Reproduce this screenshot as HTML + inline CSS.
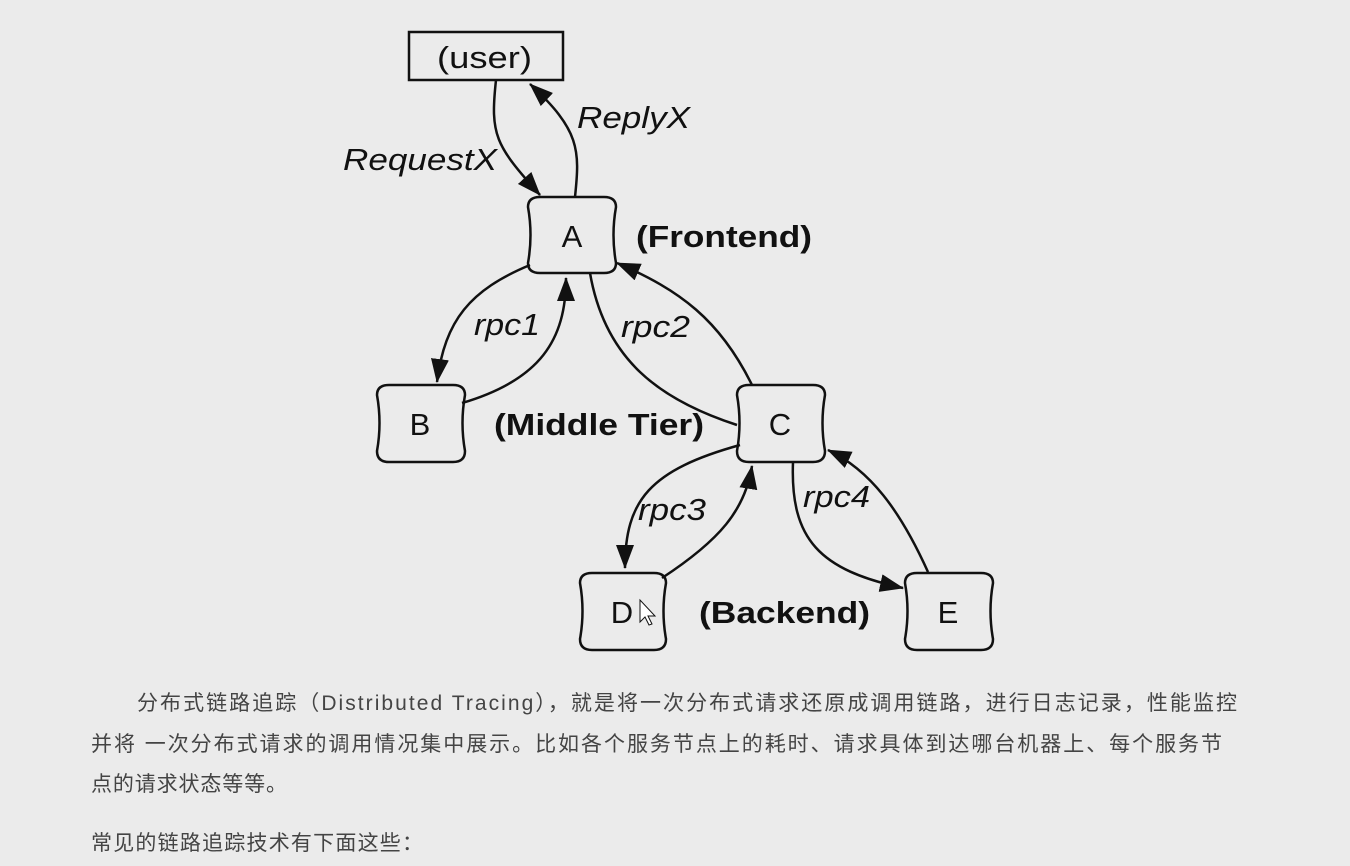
<!DOCTYPE html>
<html><head><meta charset="utf-8"><style>
html,body{margin:0;padding:0;background:#ebebeb;width:1350px;height:866px;overflow:hidden}
svg{position:absolute;left:0;top:0}
</style></head><body>
<svg width="1350" height="866" viewBox="0 0 1350 866">
<defs>
<marker id="a" viewBox="0 0 24 18" markerWidth="24" markerHeight="18" refX="23" refY="9" orient="auto" markerUnits="userSpaceOnUse"><path d="M0,0 L24,9 L0,18 z" fill="#111"/></marker></defs>
<g fill="none" stroke="#111" stroke-width="2.5">
<rect x="409" y="32" width="154" height="48" stroke-width="2.5"/>
<path d="M540,197 h64 q12,0 12,10 q-5,28 0,56 q0,10 -12,10 h-64 q-12,0 -12,-10 q5,-28 0,-56 q0,-10 12,-10z"/>
<path d="M389,385 h64 q12,0 12,10 q-5,28 0,56 q0,11 -12,11 h-64 q-12,0 -12,-11 q5,-28 0,-56 q0,-10 12,-10z"/>
<path d="M749,385 h64 q12,0 12,10 q-5,28 0,56 q0,11 -12,11 h-64 q-12,0 -12,-11 q5,-28 0,-56 q0,-10 12,-10z"/>
<path d="M592,573 h62 q12,0 12,10 q-5,28 0,56 q0,11 -12,11 h-62 q-12,0 -12,-11 q5,-28 0,-56 q0,-10 12,-10z"/>
<path d="M917,573 h64 q12,0 12,10 q-5,28 0,56 q0,11 -12,11 h-64 q-12,0 -12,-11 q5,-28 0,-56 q0,-10 12,-10z"/>
<path d="M496,80 C490,135 495,145 540,195" marker-end="url(#a)"/>
<path d="M575,197 C580,150 580,130 530,84" marker-end="url(#a)"/>
<path d="M530,265 C470,290 445,320 437,382" marker-end="url(#a)"/>
<path d="M462,403 C540,380 566,340 566,278" marker-end="url(#a)"/>
<path d="M590,273 C605,360 660,400 737,425"/>
<path d="M752,385 C720,320 680,290 617,263" marker-end="url(#a)"/>
<path d="M740,445 C650,470 625,500 625,568" marker-end="url(#a)"/>
<path d="M662,578 C720,540 745,510 752,466" marker-end="url(#a)"/>
<path d="M793,462 C790,540 820,570 903,588" marker-end="url(#a)"/>
<path d="M928,572 C900,510 870,470 828,450" marker-end="url(#a)"/>
</g>
<g font-family="Liberation Sans,sans-serif" fill="#111">
<text x="437" y="68" font-size="31" textLength="95" lengthAdjust="spacingAndGlyphs">(user)</text>
<text x="572" y="247" font-size="31" text-anchor="middle">A</text>
<text x="420" y="435" font-size="31" text-anchor="middle">B</text>
<text x="780" y="435" font-size="31" text-anchor="middle">C</text>
<text x="622" y="623" font-size="31" text-anchor="middle">D</text>
<text x="948" y="623" font-size="31" text-anchor="middle">E</text>
<g font-style="italic" font-size="31" lengthAdjust="spacingAndGlyphs">
<text x="343" y="170" textLength="154" lengthAdjust="spacingAndGlyphs">RequestX</text>
<text x="577" y="128" textLength="113" lengthAdjust="spacingAndGlyphs">ReplyX</text>
<text x="474" y="335" textLength="66" lengthAdjust="spacingAndGlyphs">rpc1</text>
<text x="621" y="337" textLength="69" lengthAdjust="spacingAndGlyphs">rpc2</text>
<text x="638" y="520" textLength="68" lengthAdjust="spacingAndGlyphs">rpc3</text>
<text x="803" y="507" textLength="67" lengthAdjust="spacingAndGlyphs">rpc4</text>
</g>
<g font-weight="bold" font-size="31">
<text x="636" y="247" textLength="176" lengthAdjust="spacingAndGlyphs">(Frontend)</text>
<text x="494" y="435" textLength="210" lengthAdjust="spacingAndGlyphs">(Middle Tier)</text>
<text x="699" y="623" textLength="171" lengthAdjust="spacingAndGlyphs">(Backend)</text>
</g></g>
<path d="M640,600 l0,22 l5,-5 l4,8 l3,-1 l-4,-8 l7,0z" fill="#fff" stroke="#111" stroke-width="1"/>
<g font-family="Liberation Sans,Noto Sans CJK SC,sans-serif" font-size="21" fill="#444">
<text x="137" y="710" textLength="1100" lengthAdjust="spacing">分布式链路追踪（Distributed Tracing），就是将一次分布式请求还原成调用链路，进行日志记录，性能监控</text>
<text x="91" y="751" textLength="1131" lengthAdjust="spacing">并将 一次分布式请求的调用情况集中展示。比如各个服务节点上的耗时、请求具体到达哪台机器上、每个服务节</text>
<text x="91" y="791" textLength="196" lengthAdjust="spacing">点的请求状态等等。</text>
<text x="91" y="850" textLength="332" lengthAdjust="spacing">常见的链路追踪技术有下面这些：</text>
</g>
</svg>
</body></html>
